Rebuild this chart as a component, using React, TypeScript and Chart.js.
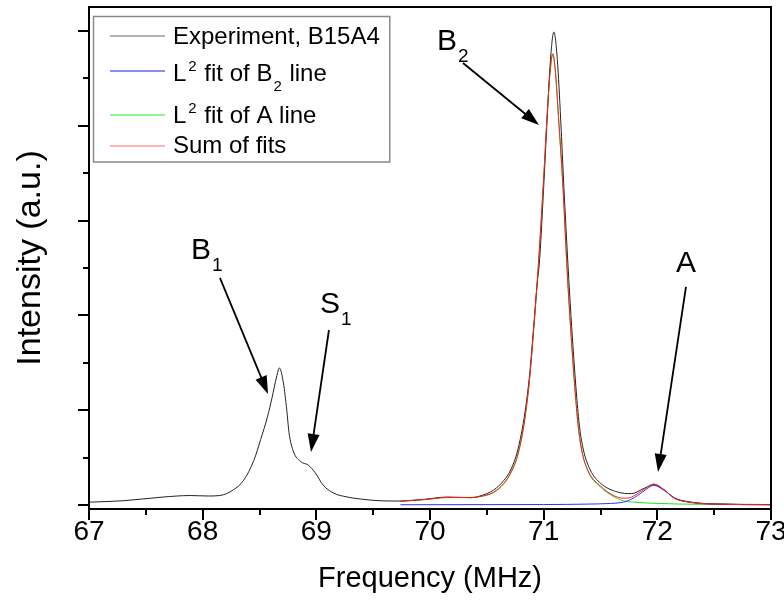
import React, { useEffect, useRef } from 'react';
import { Chart, registerables } from 'chart.js';
Chart.register(...registerables);

const FONT = 'Arial, "Liberation Sans", Helvetica, sans-serif';

// Experiment, B15A4 (black)
const expFreq = [67.0, 67.3, 67.65, 67.89, 68.05, 68.15, 68.27, 68.36, 68.45, 68.51, 68.57, 68.61, 68.65, 68.675, 68.71, 68.74, 68.76, 68.8, 68.86, 68.93, 68.99, 69.06, 69.15, 69.27, 69.39, 69.56, 69.74, 69.95, 70.15, 70.36, 70.44, 70.56, 70.65, 70.71, 70.77, 70.82, 70.85, 70.88, 70.91, 70.94, 70.965, 71.0, 71.03, 71.06, 71.09, 71.12, 71.15, 71.178, 71.215, 71.24, 71.265, 71.29, 71.315, 71.35, 71.41, 71.5, 71.65, 71.77, 71.89, 71.97, 72.06, 72.15, 72.3, 72.51, 73.0];
const expInt = [0.03, 0.045, 0.084, 0.1, 0.095, 0.1, 0.16, 0.26, 0.47, 0.69, 0.93, 1.13, 1.35, 1.445, 1.29, 1.0, 0.76, 0.56, 0.46, 0.42, 0.34, 0.21, 0.127, 0.085, 0.063, 0.045, 0.042, 0.06, 0.084, 0.077, 0.095, 0.158, 0.26, 0.37, 0.57, 0.86, 1.1, 1.42, 1.85, 2.3, 2.6, 3.35, 4.06, 4.7, 4.99, 4.7, 4.06, 3.35, 2.51, 2.0, 1.55, 1.15, 0.83, 0.58, 0.37, 0.23, 0.137, 0.12, 0.18, 0.216, 0.16, 0.074, 0.03, 0.012, 0.005];

// L2 fit of B2 line (blue)
const blueFreq = [69.74, 71.0, 71.4, 71.55, 71.7, 71.75, 71.8, 71.85, 71.89, 71.97, 72.04, 72.1, 72.15, 72.3, 72.5, 73.0];
const blueInt = [0.003, 0.005, 0.01, 0.015, 0.03, 0.05, 0.08, 0.12, 0.155, 0.208, 0.17, 0.12, 0.075, 0.027, 0.01, 0.003];

// L2 fit of A line (green)
const greenFreq = [69.74, 69.95, 70.15, 70.36, 70.44, 70.56, 70.65, 70.71, 70.77, 70.82, 70.85, 70.88, 70.91, 70.94, 70.97, 71.0, 71.03, 71.055, 71.08, 71.105, 71.13, 71.17, 71.205, 71.23, 71.255, 71.28, 71.305, 71.34, 71.4, 71.5, 71.6, 71.7, 71.8, 71.9, 72.0, 72.2, 72.5, 73.0];
const greenInt = [0.04, 0.056, 0.078, 0.078, 0.088, 0.132, 0.225, 0.335, 0.515, 0.795, 1.045, 1.375, 1.815, 2.295, 2.845, 3.445, 4.095, 4.545, 4.755, 4.545, 4.095, 3.345, 2.505, 1.995, 1.545, 1.145, 0.815, 0.545, 0.33, 0.19, 0.1, 0.045, 0.03, 0.022, 0.017, 0.01, 0.006, 0.003];

// Sum of fits (red)
const redFreq = [69.74, 69.95, 70.15, 70.36, 70.44, 70.56, 70.65, 70.71, 70.77, 70.82, 70.85, 70.88, 70.91, 70.94, 70.97, 71.0, 71.03, 71.055, 71.08, 71.105, 71.13, 71.17, 71.205, 71.23, 71.255, 71.28, 71.305, 71.34, 71.4, 71.5, 71.6, 71.7, 71.75, 71.8, 71.89, 71.97, 72.06, 72.15, 72.3, 72.5, 73.0];
const redInt = [0.042, 0.058, 0.08, 0.08, 0.09, 0.135, 0.23, 0.34, 0.52, 0.8, 1.05, 1.38, 1.82, 2.3, 2.85, 3.45, 4.1, 4.55, 4.76, 4.55, 4.1, 3.35, 2.51, 2.0, 1.55, 1.15, 0.82, 0.55, 0.34, 0.2, 0.11, 0.072, 0.075, 0.1, 0.17, 0.222, 0.16, 0.07, 0.027, 0.01, 0.003];

const xTickValues = [67, 68, 69, 70, 71, 72, 73];
const xMinorValues = [67.5, 68.5, 69.5, 70.5, 71.5, 72.5];
const yMajorValues = [0, 1, 2, 3, 4, 5];
const yMinorValues = [0.5, 1.5, 2.5, 3.5, 4.5];

// peak annotations (data coordinates)
const annMain = ['B', 'S', 'B', 'A'];
const annSub = ['1', '1', '2', ''];
const annX = [67.897, 69.032, 70.061, 72.164];
const annY = [2.595, 2.025, 4.8, 2.458];
const arrowFromX = [68.152, 69.111, 70.29, 72.252];
const arrowFromY = [2.395, 1.846, 4.662, 2.3];
const arrowToX = [68.575, 68.953, 70.959, 72.006];
const arrowToY = [1.171, 0.559, 4.008, 0.348];

const toPts = (xs: number[], ys: number[]) => xs.map((x, i) => ({ x, y: ys[i] }));

type Part = [string, 'n' | 'sup' | 'sub'];

function drawRich(ctx: CanvasRenderingContext2D, parts: Part[], x: number, y: number, size: number) {
  let cx = x;
  for (const [t, k] of parts) {
    if (k === 'n') {
      ctx.font = `${size}px ${FONT}`;
      ctx.fillText(t, cx, y);
    } else if (k === 'sup') {
      ctx.font = `${Math.round(size * 0.62)}px ${FONT}`;
      ctx.fillText(t, cx + 2, y - size * 0.42);
      cx += 3;
    } else {
      ctx.font = `${Math.round(size * 0.64)}px ${FONT}`;
      ctx.fillText(t, cx + 1, y + size * 0.4);
      cx += 2;
    }
    cx += ctx.measureText(t).width;
  }
  return cx - x;
}

const legendItems: { color: string; parts: Part[] }[] = [
  { color: '#9a9a9a', parts: [['Experiment, B15A4', 'n']] },
  { color: '#6464ff', parts: [['L', 'n'], ['2', 'sup'], [' fit of B', 'n'], ['2', 'sub'], [' line', 'n']] },
  { color: '#6cf06c', parts: [['L', 'n'], ['2', 'sup'], [' fit of A line', 'n']] },
  { color: '#ff9d9d', parts: [['Sum of fits', 'n']] },
];
const legendLineY = [36, 71, 115, 146];
const legendTextY = [44, 81, 123, 153];

const decorPlugin = {
  id: 'decor',
  afterDraw(chart: any) {
    const { ctx, chartArea: ca, scales } = chart;
    const xs = scales.x;
    const ys = scales.y;
    ctx.save();
    // frame
    ctx.strokeStyle = '#000';
    ctx.lineWidth = 2;
    ctx.strokeRect(ca.left, ca.top, ca.right - ca.left, ca.bottom - ca.top);
    // ticks
    ctx.beginPath();
    for (const v of xTickValues) {
      const px = Math.round(xs.getPixelForValue(v));
      ctx.moveTo(px, ca.bottom);
      ctx.lineTo(px, ca.bottom + 11);
    }
    for (const v of xMinorValues) {
      const px = Math.round(xs.getPixelForValue(v));
      ctx.moveTo(px, ca.bottom);
      ctx.lineTo(px, ca.bottom + 6);
    }
    for (const v of yMajorValues) {
      const py = Math.round(ys.getPixelForValue(v));
      ctx.moveTo(ca.left, py);
      ctx.lineTo(ca.left - 11, py);
    }
    for (const v of yMinorValues) {
      const py = Math.round(ys.getPixelForValue(v));
      ctx.moveTo(ca.left, py);
      ctx.lineTo(ca.left - 6, py);
    }
    ctx.stroke();

    // legend
    const size = 24;
    ctx.fillStyle = '#000';
    ctx.textBaseline = 'alphabetic';
    ctx.textAlign = 'left';
    let maxW = 0;
    legendItems.forEach((it, i) => {
      const w = drawRich(ctx, it.parts, 173, legendTextY[i], size);
      maxW = Math.max(maxW, w);
      ctx.strokeStyle = it.color;
      ctx.lineWidth = 1.5;
      ctx.beginPath();
      ctx.moveTo(110, legendLineY[i]);
      ctx.lineTo(165, legendLineY[i]);
      ctx.stroke();
    });
    ctx.strokeStyle = '#8a8a8a';
    ctx.lineWidth = 1.5;
    ctx.strokeRect(93.5, 16.5, 173 + maxW + 10 - 93.5, 162 - 16.5);

    // annotations
    ctx.fillStyle = '#000';
    ctx.strokeStyle = '#000';
    for (let i = 0; i < annMain.length; i++) {
      const lx = xs.getPixelForValue(annX[i]);
      const ly = ys.getPixelForValue(annY[i]);
      const parts: Part[] = [[annMain[i], 'n']];
      if (annSub[i]) parts.push([annSub[i], 'sub']);
      drawRich(ctx, parts, lx, ly, 30);
      const x1 = xs.getPixelForValue(arrowFromX[i]);
      const y1 = ys.getPixelForValue(arrowFromY[i]);
      const x2 = xs.getPixelForValue(arrowToX[i]);
      const y2 = ys.getPixelForValue(arrowToY[i]);
      const ang = Math.atan2(y2 - y1, x2 - x1);
      const hl = 18, hw = 6;
      ctx.lineWidth = 1.8;
      ctx.beginPath();
      ctx.moveTo(x1, y1);
      ctx.lineTo(x2 - Math.cos(ang) * hl * 0.8, y2 - Math.sin(ang) * hl * 0.8);
      ctx.stroke();
      ctx.beginPath();
      ctx.moveTo(x2, y2);
      const bx = x2 - Math.cos(ang) * hl;
      const by = y2 - Math.sin(ang) * hl;
      ctx.lineTo(bx + Math.sin(ang) * hw, by - Math.cos(ang) * hw);
      ctx.lineTo(bx - Math.sin(ang) * hw, by + Math.cos(ang) * hw);
      ctx.closePath();
      ctx.fill();
    }
    ctx.restore();
  },
};

export default function App() {
  const ref = useRef<HTMLCanvasElement>(null);
  useEffect(() => {
    document.body.style.margin = '0';
    const canvas = ref.current;
    if (!canvas) return;
    const chart = new Chart(canvas, {
      type: 'line',
      data: {
        datasets: [
          { label: 'Experiment, B15A4', data: toPts(expFreq, expInt), borderColor: '#222', borderWidth: 1, order: 1 },
          { label: 'L2 fit of B2 line', data: toPts(blueFreq, blueInt), borderColor: '#3030ff', borderWidth: 1, order: 2 },
          { label: 'L2 fit of A line', data: toPts(greenFreq, greenInt), borderColor: '#22dd22', borderWidth: 1, order: 3 },
          { label: 'Sum of fits', data: toPts(redFreq, redInt), borderColor: '#ff2020', borderWidth: 1, order: 0 },
        ],
      },
      options: {
        animation: false,
        responsive: false,
        devicePixelRatio: 1,
        layout: { padding: { top: 7, right: 13, left: 0, bottom: 0 } },
        elements: {
          point: { radius: 0 },
          line: { cubicInterpolationMode: 'monotone', fill: false },
        },
        plugins: { legend: { display: false }, tooltip: { enabled: false } },
        scales: {
          x: {
            type: 'linear',
            min: 67,
            max: 73,
            ticks: { stepSize: 1, color: '#000', font: { size: 28, family: FONT }, padding: -4, maxRotation: 0, autoSkip: false },
            grid: { display: true, drawOnChartArea: false, drawTicks: true, tickLength: 10, color: 'rgba(0,0,0,0)' },
            border: { display: false },
            title: { display: true, text: 'Frequency (MHz)', color: '#000', font: { size: 29, family: FONT }, padding: { top: 0, bottom: 8 } },
            afterFit: (s: any) => { s.height = 95; },
          },
          y: {
            type: 'linear',
            min: -0.042,
            max: 5.253,
            ticks: { display: false },
            grid: { display: false },
            border: { display: false },
            title: { display: true, text: 'Intensity (a.u.)', color: '#000', font: { size: 34, family: FONT }, padding: { top: 10, bottom: 0 } },
            afterFit: (s: any) => { s.width = 89; },
          },
        },
      },
      plugins: [decorPlugin],
    } as any);
    return () => chart.destroy();
  }, []);
  return (
    <div style={{ width: 784, height: 604 }}>
      <canvas ref={ref} width={784} height={604} style={{ display: 'block' }} />
    </div>
  );
}
